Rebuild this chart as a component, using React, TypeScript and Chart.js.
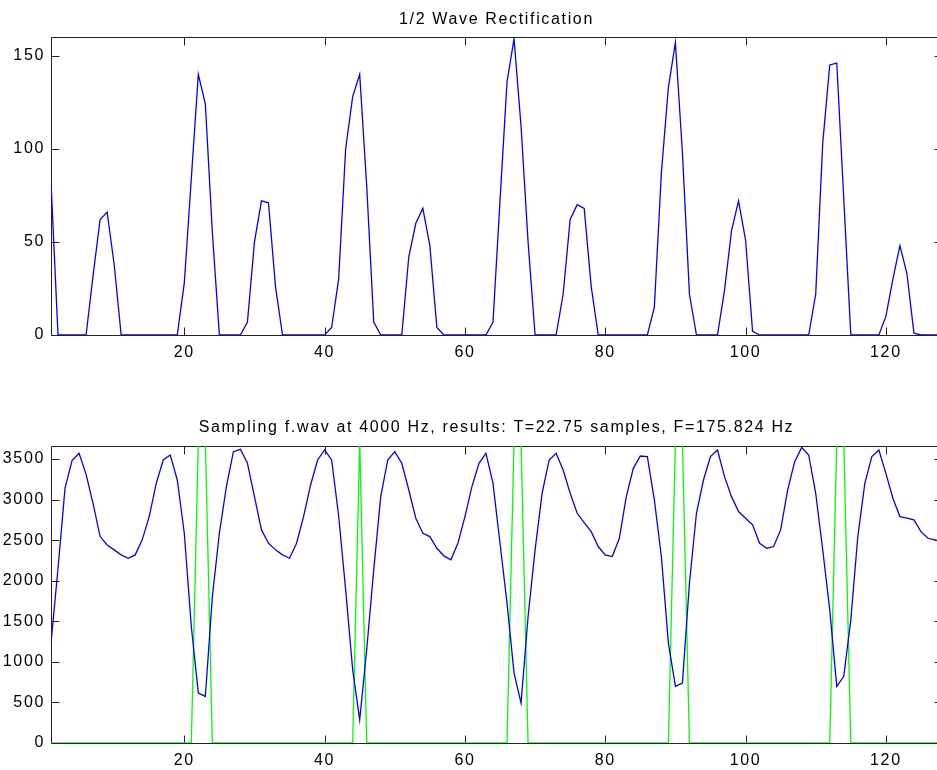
import React, { useEffect, useRef } from "react";
import { Chart, registerables } from "chart.js";
Chart.register(...registerables);

const TITLE_TOP = "1/2 Wave Rectification";
const TITLE_BOTTOM = "Sampling f.wav at 4000 Hz, results: T=22.75 samples, F=175.824 Hz";

const X_TICKS = [20, 40, 60, 80, 100, 120];
const Y_TICKS_TOP = [0, 50, 100, 150];
const Y_TICKS_BOTTOM = [0, 500, 1000, 1500, 2000, 2500, 3000, 3500];

// half-wave rectified values, samples 1..128
const RECT = [
  82, 0, 0, 0, 0, 0, 32, 62, 66, 38,
  0, 0, 0, 0, 0, 0, 0, 0, 0, 28,
  84, 140, 124, 55, 0, 0, 0, 0, 7, 50,
  72, 71, 26, 0, 0, 0, 0, 0, 0, 0,
  4, 30, 100, 128, 140, 80, 7, 0, 0, 0,
  0, 42, 60, 68, 48, 4, 0, 0, 0, 0,
  0, 0, 0, 7, 72, 136, 159, 112, 50, 0,
  0, 0, 0, 22, 62, 70, 68, 26, 0, 0,
  0, 0, 0, 0, 0, 0, 15, 87, 133, 157,
  98, 22, 0, 0, 0, 0, 24, 56, 72, 51,
  2, 0, 0, 0, 0, 0, 0, 0, 0, 22,
  103, 145, 146, 73, 0, 0, 0, 0, 0, 10,
  30, 48, 33, 1, 0, 0, 0, 0,
];

// sampled signal, samples 1..128
const SIGNAL = [
  1231, 2150, 3140, 3480, 3570, 3310, 2950, 2544, 2441, 2380,
  2318, 2277, 2318, 2503, 2790, 3200, 3488, 3549, 3241, 2585,
  1436, 615, 574, 1805, 2585, 3159, 3590, 3619, 3447, 3036,
  2626, 2462, 2380, 2318, 2277, 2462, 2790, 3180, 3488, 3611,
  3488, 2800, 1887, 903, 287, 1149, 2134, 3036, 3488, 3590,
  3447, 3118, 2770, 2585, 2544, 2400, 2306, 2257, 2462, 2790,
  3159, 3447, 3570, 3200, 2462, 1723, 862, 492, 1559, 2380,
  3077, 3488, 3570, 3364, 3077, 2831, 2716, 2605, 2421, 2318,
  2298, 2520, 3036, 3385, 3537, 3529, 2995, 2298, 1231, 698,
  738, 1969, 2831, 3241, 3529, 3611, 3282, 3036, 2852, 2770,
  2688, 2462, 2400, 2421, 2626, 3118, 3467, 3643, 3549, 3077,
  2380, 1641, 698, 821, 1518, 2544, 3200, 3529, 3611, 3323,
  3016, 2790, 2770, 2749, 2605, 2523, 2503, 2480,
];

// detected period markers, samples 1..128
const PULSE = [
  0, 0, 0, 0, 0, 0, 0, 0, 0, 0,
  0, 0, 0, 0, 0, 0, 0, 0, 0, 0,
  0, 3720, 3720, 0, 0, 0, 0, 0, 0, 0,
  0, 0, 0, 0, 0, 0, 0, 0, 0, 0,
  0, 0, 0, 0, 3720, 0, 0, 0, 0, 0,
  0, 0, 0, 0, 0, 0, 0, 0, 0, 0,
  0, 0, 0, 0, 0, 0, 3720, 3720, 0, 0,
  0, 0, 0, 0, 0, 0, 0, 0, 0, 0,
  0, 0, 0, 0, 0, 0, 0, 0, 0, 3720,
  3720, 0, 0, 0, 0, 0, 0, 0, 0, 0,
  0, 0, 0, 0, 0, 0, 0, 0, 0, 0,
  0, 0, 3720, 3720, 0, 0, 0, 0, 0, 0,
  0, 0, 0, 0, 0, 0, 0, 0,
];

const FONT = { family: "'Liberation Sans', Arial, sans-serif", size: 16, weight: "normal" as const };
const LETTER_SPACING = "1.65px";
const PLOT_LEFT = 51;
const PLOT_RIGHT = 942;
const CANVAS_W = PLOT_RIGHT + PLOT_LEFT; // symmetric so the title centres on the plot

const toPoints = (arr: number[]) => arr.map((v, i) => ({ x: i + 1, y: v }));

const spacing = {
  id: "spacing",
  beforeDraw(chart: any) {
    (chart.ctx as any).letterSpacing = LETTER_SPACING;
  },
};

const boxTicks = {
  id: "boxTicks",
  beforeDatasetsDraw(chart: any) {
    const { ctx, chartArea, scales } = chart;
    const L = Math.round(chartArea.left) + 0.5;
    const R = Math.round(chartArea.right) + 0.5;
    const T = Math.round(chartArea.top) + 0.5;
    const B = Math.round(chartArea.bottom) + 0.5;
    const len = 8;
    ctx.save();
    ctx.strokeStyle = "#222";
    ctx.lineWidth = 1;
    ctx.beginPath();
    ctx.rect(L, T, R - L, B - T);
    for (const t of scales.x.ticks) {
      const px = Math.round(scales.x.getPixelForValue(t.value)) + 0.5;
      ctx.moveTo(px, B);
      ctx.lineTo(px, B - len);
      ctx.moveTo(px, T);
      ctx.lineTo(px, T + len);
    }
    for (const t of scales.y.ticks) {
      const py = Math.round(scales.y.getPixelForValue(t.value)) + 0.5;
      ctx.moveTo(L, py);
      ctx.lineTo(L + len, py);
      ctx.moveTo(R, py);
      ctx.lineTo(R - len, py);
    }
    ctx.stroke();
    ctx.restore();
  },
};

function makeConfig(opts: {
  title: string;
  titlePad: { top: number; bottom: number };
  xHeight: number;
  yMax: number;
  yTicks: number[];
  datasets: any[];
}) {
  return {
    type: "line" as const,
    data: { datasets: opts.datasets },
    plugins: [spacing, boxTicks],
    options: {
      animation: false as const,
      responsive: false,
      maintainAspectRatio: false,
      layout: { padding: 0 },
      elements: { point: { radius: 0 }, line: { tension: 0 } },
      plugins: {
        legend: { display: false },
        tooltip: { enabled: false },
        title: {
          display: true,
          text: opts.title,
          color: "#000",
          font: FONT,
          padding: opts.titlePad,
        },
      },
      scales: {
        x: {
          type: "linear" as const,
          min: 1,
          max: 128,
          grid: { display: false, drawTicks: false },
          border: { display: false },
          ticks: {
            color: "#000",
            font: FONT,
            padding: 8,
            maxRotation: 0,
            autoSkip: false,
            callback: (v: any) => String(v),
          },
          afterBuildTicks: (s: any) => {
            s.ticks = X_TICKS.map((v) => ({ value: v }));
          },
          afterFit: (s: any) => {
            s.height = opts.xHeight;
          },
        },
        y: {
          type: "linear" as const,
          position: "left" as const,
          min: 0,
          max: opts.yMax,
          grid: { display: false, drawTicks: false },
          border: { display: false },
          ticks: { color: "#000", font: FONT, padding: 6, callback: (v: any) => String(v) },
          afterBuildTicks: (s: any) => {
            s.ticks = opts.yTicks.map((v) => ({ value: v }));
          },
          afterFit: (s: any) => {
            s.width = PLOT_LEFT;
          },
        },
        yRight: {
          type: "linear" as const,
          position: "right" as const,
          min: 0,
          max: opts.yMax,
          grid: { display: false, drawTicks: false },
          border: { display: false },
          ticks: { display: false },
          afterFit: (s: any) => {
            s.width = CANVAS_W - PLOT_RIGHT;
          },
        },
      },
    },
  };
}

export default function App() {
  const topRef = useRef<HTMLCanvasElement>(null);
  const botRef = useRef<HTMLCanvasElement>(null);

  useEffect(() => {
    const c1 = new Chart(
      topRef.current!,
      makeConfig({
        title: TITLE_TOP,
        titlePad: { top: 10, bottom: 7.8 },
        xHeight: 390 - 335,
        yMax: 160,
        yTicks: Y_TICKS_TOP,
        datasets: [
          {
            data: toPoints(RECT),
            borderColor: "#0000ff",
            borderWidth: 1.3,
            fill: false,
            yAxisID: "y",
          },
        ],
      }) as any
    );
    const c2 = new Chart(
      botRef.current!,
      makeConfig({
        title: TITLE_BOTTOM,
        titlePad: { top: 28.4, bottom: 8.4 },
        xHeight: 380 - 353,
        yMax: 3660,
        yTicks: Y_TICKS_BOTTOM,
        datasets: [
          {
            data: toPoints(SIGNAL),
            borderColor: "#0000ff",
            borderWidth: 1.3,
            fill: false,
            yAxisID: "y",
          },
          {
            data: toPoints(PULSE),
            borderColor: "#00ff00",
            borderWidth: 1.3,
            fill: false,
            yAxisID: "y",
          },
        ],
      }) as any
    );
    return () => {
      c1.destroy();
      c2.destroy();
    };
  }, []);

  return (
    <div
      style={{
        position: "fixed",
        left: 0,
        top: 0,
        width: 937,
        height: 770,
        overflow: "hidden",
        background: "#fff",
      }}
    >
      <canvas
        ref={topRef}
        width={CANVAS_W}
        height={390}
        style={{ position: "absolute", left: 0, top: 0, width: CANVAS_W, height: 390 }}
      />
      <canvas
        ref={botRef}
        width={CANVAS_W}
        height={380}
        style={{ position: "absolute", left: 0, top: 390, width: CANVAS_W, height: 380 }}
      />
    </div>
  );
}
